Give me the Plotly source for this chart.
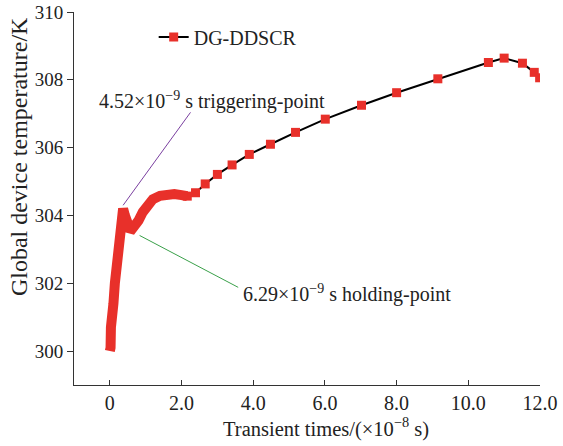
import plotly.graph_objects as go

# Dense early-transient segment (drawn as overlapping markers in the original)
dense_t = [0.0, 0.02, 0.03, 0.06, 0.10, 0.14, 0.19, 0.24, 0.29, 0.33, 0.37, 0.42, 0.48, 0.55, 0.62, 0.70, 0.80, 0.92, 1.05, 1.20, 1.40, 1.60, 1.80, 2.00, 2.16]
dense_T = [300.0, 300.1, 300.7, 300.9, 301.4, 302.0, 302.6, 303.2, 303.8, 304.15, 304.2, 304.0, 303.75, 303.62, 303.6, 303.68, 303.85, 304.1, 304.32, 304.48, 304.58, 304.62, 304.63, 304.6, 304.57]

# Sparse markers
sparse_t = [2.16, 2.39, 2.66, 3.0, 3.41, 3.89, 4.48, 5.18, 6.01, 7.02, 8.0, 9.15, 10.56, 11.0, 11.51, 11.84, 11.99]
sparse_T = [304.57, 304.67, 304.93, 305.21, 305.49, 305.80, 306.10, 306.45, 306.84, 307.25, 307.62, 308.03, 308.51, 308.64, 308.49, 308.22, 308.06]

x_ticks = [0, 2, 4, 6, 8, 10, 12]
x_ticktext = ["0", "2.0", "4.0", "6.0", "8.0", "10.0", "12.0"]
y_ticks = [300, 302, 304, 306, 308, 310]

FONT = "Liberation Serif"
RED = "#e8302a"
TXT = "#222"

fig = go.Figure()
fig.add_trace(go.Scatter(
    x=sparse_t, y=sparse_T, mode="lines+markers", name="DG-DDSCR",
    line=dict(color="black", width=2),
    marker=dict(symbol="square", size=9, color=RED),
))
fig.add_trace(go.Scatter(
    x=dense_t, y=dense_T, mode="lines", showlegend=False,
    line=dict(color=RED, width=10),
))

# annotation leader lines
fig.add_shape(type="line", x0=0.37, y0=304.3, x1=2.25, y1=307.04,
              line=dict(color="#7a3fa0", width=1))
fig.add_shape(type="line", x0=0.83, y0=303.41, x1=3.58, y1=301.88,
              line=dict(color="#3aa04a", width=1))

fig.add_annotation(x=-0.36, y=307.4, xanchor="left", yanchor="middle", showarrow=False,
                   text="4.52×10<sup>−9</sup> s triggering-point",
                   font=dict(family=FONT, size=20, color=TXT))
fig.add_annotation(x=3.65, y=301.7, xanchor="left", yanchor="middle", showarrow=False,
                   text="6.29×10<sup>−9</sup> s holding-point",
                   font=dict(family=FONT, size=20, color=TXT))

# axis titles
fig.add_annotation(xref="paper", yref="paper", x=0.541, y=-0.115,
                   xanchor="center", yanchor="middle", showarrow=False,
                   text="Transient times/(×10<sup>−8</sup> s)",
                   font=dict(family=FONT, size=20.5, color=TXT))
fig.add_annotation(xref="paper", yref="paper", x=-0.118, y=0.611,
                   xanchor="center", yanchor="middle", showarrow=False, textangle=-90,
                   text="Global device temperature/K",
                   font=dict(family=FONT, size=24, color=TXT))

fig.update_layout(
    width=563, height=446,
    margin=dict(l=74, r=23, t=12, b=61),
    paper_bgcolor="white", plot_bgcolor="white",
    font=dict(family=FONT, size=19, color=TXT),
    legend=dict(x=0.171, y=0.985, xanchor="left", yanchor="top",
                bgcolor="rgba(0,0,0,0)", font=dict(family=FONT, size=20, color=TXT)),
    xaxis=dict(range=[-1, 12], tickvals=x_ticks, ticktext=x_ticktext,
               ticks="inside", ticklen=5, tickcolor="#333", automargin=False,
               tickfont=dict(family=FONT, size=20, color=TXT),
               showline=True, linecolor="#333", linewidth=1, showgrid=False, zeroline=False),
    yaxis=dict(range=[299, 310], tickvals=y_ticks,
               ticks="outside", ticklen=6, tickcolor="#333", automargin=False,
               tickfont=dict(family=FONT, size=19, color=TXT),
               showline=True, linecolor="#333", linewidth=1, showgrid=False, zeroline=False),
)

fig.write_html("out.html", config={"displayModeBar": False},
               post_script="document.body.style.margin='0';document.body.style.padding='0';")
